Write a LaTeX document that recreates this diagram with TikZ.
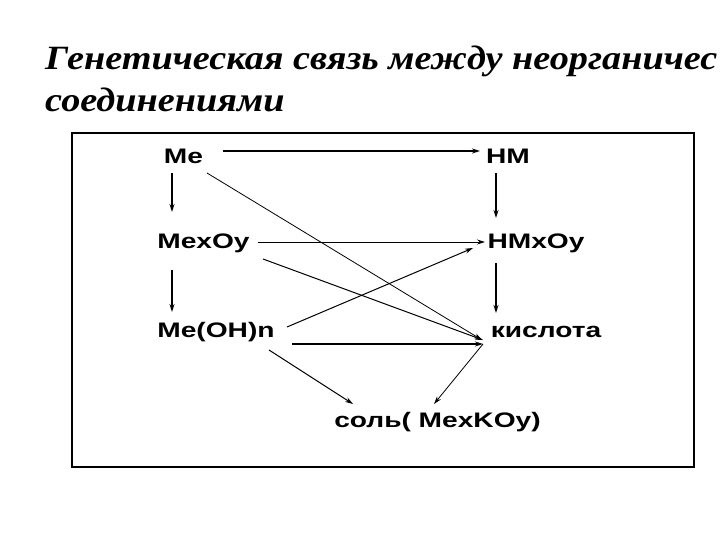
\documentclass[tikz,border=0pt]{standalone}
\usepackage{fontspec}
\setmainfont{Liberation Serif}
\newfontfamily\fontformula[FakeStretch=1.34]{Liberation Sans}
\newfontfamily\fonttitulo[FakeStretch=1.125]{Liberation Serif}
\usepackage{tikz}
\usetikzlibrary{arrows.meta}
\usetikzlibrary{calc}
\tikzset{
  formula/.style={inner sep=0pt, anchor=base, font=\fontformula\fontsize{21}{21}\selectfont\bfseries},
  titulo/.style={inner sep=0pt, anchor=base west, font=\fonttitulo\fontsize{34}{34}\selectfont\bfseries\itshape},
  flecha/.style={-{Stealth[length=8pt,width=5pt]}, line width=#1},
  flecha/.default=0.8pt,
}

\begin{document}
\begin{tikzpicture}[x=1pt, y=-1pt]
  \useasboundingbox (0,0) rectangle (720,540);
  % заголовок
  \node[titulo] (tit1) at (45,70) {Генетическая связь между неорганичес};
  \node[titulo] (tit2) at (45,112) {соединениями};
  \draw[line width=1.4pt] (72,133) rectangle (694,467);

  % вещества
  \node[formula] (me) at (183.5,164) {Me};
  \node[formula] (hm) at (508,164) {HM};
  \node[formula] (mexoy) at (203.5,248) {MexOy};
  \node[formula] (hmxoy) at (536,248) {HMxOy};
  \node[formula] (meoh) at (216,337) {Me(OH)n};
  \node[formula] (kisl) at (546,337) {кислота};
  \node[formula] (sol) at (437.5,427) {соль( MexKOy)};

  % связи
  \draw[flecha=1.2pt] ($(me.base)+(39.5,-13)$) -- ($(hm.base)+(-28,-13)$);
  \draw[flecha=1.2pt] ($(me.base)+(-11.5,9)$) -- ($(mexoy.base)+(-31.5,-36)$);
  \draw[flecha=1.2pt] ($(hm.base)+(-12,9)$) -- ($(hmxoy.base)+(-40,-30)$);
  \draw[flecha] ($(me.base)+(23.5,9)$) -- ($(kisl.base)+(-64,3)$);
  \draw[flecha] ($(mexoy.base)+(54.5,-6)$) -- ($(hmxoy.base)+(-51,-6)$);
  \draw[flecha=1pt] ($(mexoy.base)+(59.5,11)$) -- ($(kisl.base)+(-63,3)$);
  \draw[flecha=1.2pt] ($(mexoy.base)+(-31.5,22)$) -- ($(meoh.base)+(-44,-25)$);
  \draw[flecha=1.2pt] ($(hmxoy.base)+(-40,15)$) -- ($(kisl.base)+(-50,-24)$);
  \draw[flecha=1pt] ($(meoh.base)+(71,-10)$) -- ($(hmxoy.base)+(-63,0)$);
  \draw[flecha=1.8pt] ($(meoh.base)+(76,7)$) -- ($(kisl.base)+(-63,7)$);
  \draw[flecha=1pt] ($(meoh.base)+(53,13)$) -- ($(sol.base)+(-84.5,-23)$);
  \draw[flecha] ($(kisl.base)+(-63,7)$) -- ($(sol.base)+(-3.5,-23)$);
\end{tikzpicture}
\end{document}
